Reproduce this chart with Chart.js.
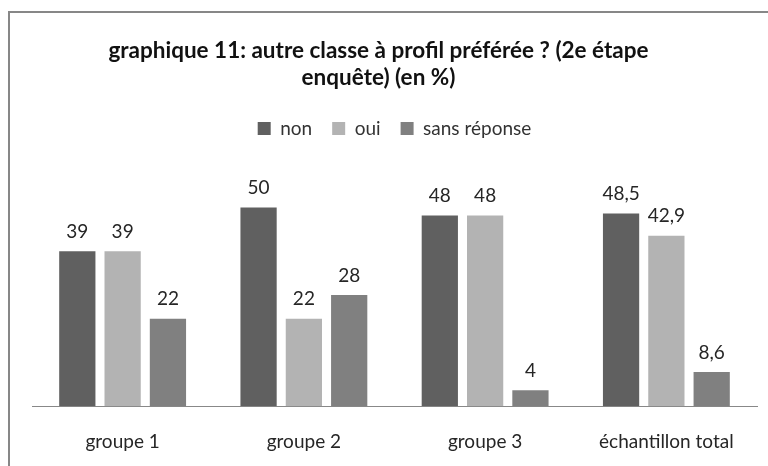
<!DOCTYPE html>
<html>
<head>
<meta charset="utf-8">
<script src="https://cdn.jsdelivr.net/npm/chart.js@4"></script>
<style>
  html, body { margin:0; padding:0; background:#fff; }
  #wrap { position:relative; width:768px; height:466px; overflow:hidden; }
  #frame { position:absolute; left:8px; top:11px; width:800px; height:500px;
           border-left:2px solid #878787; border-top:2px solid #878787; }
  canvas { position:absolute; left:0; top:0; }
</style>
</head>
<body>
<div id="wrap">
  <div id="frame"></div>
  <canvas id="c" width="768" height="466"></canvas>
</div>
<script>
// données
const groupes = ['groupe 1', 'groupe 2', 'groupe 3', 'échantillon total'];
const non = [39, 50, 48, 48.5];
const oui = [39, 22, 48, 42.9];
const sansReponse = [22, 28, 4, 8.6];
const titre = ['graphique 11: autre classe à profil préférée ? (2e étape', 'enquête) (en %)'];

const police = 'Lato, "Open Sans", sans-serif';

// étiquettes de valeur au-dessus des barres (format français)
const etiquettes = {
  id: 'etiquettes',
  afterDatasetsDraw(chart) {
    const ctx = chart.ctx;
    ctx.save();
    ctx.font = '19px ' + police;
    ctx.fillStyle = '#262626';
    ctx.textAlign = 'center';
    ctx.textBaseline = 'bottom';
    chart.data.datasets.forEach((ds, i) => {
      chart.getDatasetMeta(i).data.forEach((bar, j) => {
        const txt = String(ds.data[j]).replace('.', ',');
        ctx.fillText(txt, bar.x, bar.y - 10);
      });
    });
    ctx.restore();
  }
};

new Chart(document.getElementById('c'), {
  type: 'bar',
  data: {
    labels: groupes,
    datasets: [
      { label: 'non', data: non, backgroundColor: '#606060' },
      { label: 'oui', data: oui, backgroundColor: '#b3b3b3' },
      { label: 'sans réponse', data: sansReponse, backgroundColor: '#808080' }
    ]
  },
  options: {
    responsive: false,
    animation: false,
    layout: { padding: { left: 0, right: 11, top: 37, bottom: -11 } },
    datasets: { bar: { categoryPercentage: 0.75, barPercentage: 0.8 } },
    plugins: {
      title: {
        display: true, text: titre, color: '#111',
        font: { family: police, size: 22.5, weight: 'bold', lineHeight: 1.2 },
        padding: { top: 0, bottom: 8 }
      },
      legend: {
        fullSize: false,
        labels: { color: '#333', font: { family: police, size: 19 }, boxWidth: 13, boxHeight: 13, padding: 20 }
      },
      tooltip: { enabled: false }
    },
    scales: {
      x: {
        grid: { display: false, drawTicks: false },
        border: { color: '#888', width: 1 },
        ticks: { color: '#262626', font: { family: police, size: 19 }, padding: 24 }
      },
      y: {
        min: 0, max: 65,
        grid: { display: false, drawTicks: false },
        border: { display: false },
        ticks: { display: false },
        afterFit(scale) { scale.width = 32; }
      }
    }
  },
  plugins: [etiquettes]
});
</script>
</body>
</html>
